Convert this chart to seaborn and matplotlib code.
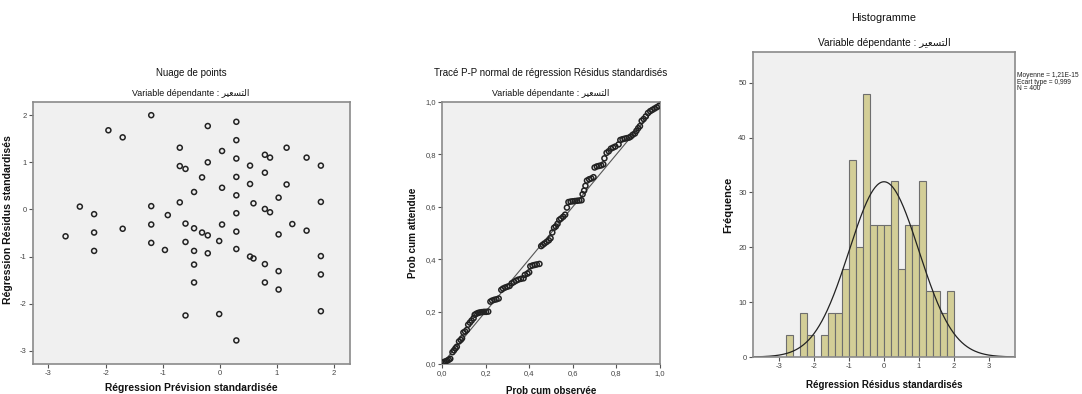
import numpy as np
import pandas as pd
import matplotlib
matplotlib.use("Agg")
import matplotlib.pyplot as plt
import seaborn as sns
from matplotlib.ticker import FuncFormatter

sns.set_theme(style="white")
plt.rcParams["font.family"] = ["Liberation Sans", "DejaVu Sans"]
plt.rcParams["axes.unicode_minus"] = False

# Dependent variable name, Arabic presentation forms in display order
DEP_VAR = "\uFEAE\uFEF4\uFECC\uFEB4\uFE98\uFEDF\uFE8D"
SUBTITLE = "Variable dépendante : " + DEP_VAR

# --- Scatter: standardized predicted vs standardized residuals ---
pred_std = [-1.20, -1.95, -1.70, -0.21, 0.29, 0.29, -0.70, 0.04, 0.29, 0.79, 0.88, 1.17,
            1.52, 1.77, -0.70, -0.60, -0.21, 0.53, 0.79, -0.31, 0.29, 0.53, 1.17, 0.04,
            -0.45, 0.29, 1.03, -0.70, 0.59, 1.77, -2.45, -1.20, 0.79, 0.88, -2.20, -0.91,
            0.29, -2.70, -2.20, -1.70, -1.20, -0.60, -0.45, -0.31, -0.21, 0.04, 0.29, 1.03,
            1.27, 1.52, -2.20, -1.20, -0.96, -0.60, -0.45, -0.21, -0.01, 0.29, 0.53, 0.59,
            0.79, 1.03, 1.77, 1.77, -0.45, -0.45, 0.79, 1.03, -0.60, -0.01, 1.77, 0.29]
resid_std = [2.00, 1.68, 1.53, 1.77, 1.86, 1.47, 1.31, 1.24, 1.08, 1.16, 1.10, 1.31,
             1.10, 0.93, 0.92, 0.86, 1.00, 0.93, 0.78, 0.68, 0.69, 0.54, 0.53, 0.46,
             0.37, 0.30, 0.25, 0.15, 0.13, 0.16, 0.06, 0.07, 0.01, -0.06, -0.10, -0.12,
             -0.08, -0.57, -0.49, -0.41, -0.32, -0.30, -0.40, -0.49, -0.55, -0.32, -0.47, -0.53,
             -0.31, -0.45, -0.88, -0.71, -0.86, -0.69, -0.88, -0.93, -0.67, -0.84, -1.00, -1.04,
             -1.16, -1.31, -0.99, -1.38, -1.17, -1.55, -1.55, -1.70, -2.25, -2.22, -2.16, -2.78]

# --- Normal P-P plot of standardized residuals ---
pp_observed = [0.003, 0.010, 0.017, 0.024, 0.031, 0.038, 0.048, 0.055, 0.062, 0.068,
               0.078, 0.086, 0.092, 0.098, 0.106, 0.114, 0.120, 0.128, 0.136, 0.145,
               0.150, 0.158, 0.166, 0.175, 0.184, 0.193, 0.202, 0.212, 0.222, 0.230,
               0.240, 0.250, 0.260, 0.272, 0.280, 0.290, 0.300, 0.310, 0.320, 0.330,
               0.340, 0.350, 0.362, 0.374, 0.380, 0.392, 0.400, 0.405, 0.415, 0.425,
               0.435, 0.447, 0.455, 0.462, 0.470, 0.480, 0.490, 0.498, 0.506, 0.514,
               0.522, 0.530, 0.538, 0.546, 0.556, 0.565, 0.573, 0.580, 0.590, 0.600,
               0.610, 0.620, 0.630, 0.640, 0.645, 0.652, 0.658, 0.665, 0.675, 0.685,
               0.695, 0.700, 0.710, 0.720, 0.730, 0.740, 0.745, 0.755, 0.765, 0.775,
               0.785, 0.795, 0.810, 0.818, 0.828, 0.838, 0.848, 0.858, 0.866, 0.875,
               0.885, 0.892, 0.900, 0.908, 0.916, 0.925, 0.935, 0.945, 0.955, 0.965,
               0.975, 0.985, 0.995]
pp_expected = [0.005, 0.008, 0.010, 0.013, 0.016, 0.020, 0.045, 0.052, 0.060, 0.066,
               0.086, 0.092, 0.098, 0.120, 0.124, 0.130, 0.150, 0.158, 0.166, 0.175,
               0.188, 0.192, 0.195, 0.197, 0.198, 0.199, 0.199, 0.200, 0.238, 0.242,
               0.245, 0.247, 0.250, 0.283, 0.288, 0.292, 0.295, 0.298, 0.308, 0.313,
               0.318, 0.322, 0.325, 0.327, 0.340, 0.345, 0.350, 0.373, 0.376, 0.378,
               0.380, 0.382, 0.450, 0.455, 0.460, 0.466, 0.472, 0.480, 0.502, 0.520,
               0.525, 0.535, 0.550, 0.555, 0.562, 0.570, 0.597, 0.618, 0.620, 0.621,
               0.622, 0.623, 0.624, 0.625, 0.648, 0.662, 0.680, 0.700, 0.705, 0.708,
               0.713, 0.750, 0.754, 0.756, 0.758, 0.762, 0.785, 0.806, 0.812, 0.822,
               0.826, 0.830, 0.838, 0.855, 0.858, 0.860, 0.862, 0.864, 0.868, 0.875,
               0.880, 0.890, 0.900, 0.908, 0.928, 0.935, 0.945, 0.958, 0.965, 0.970,
               0.975, 0.980, 0.985]

# --- Histogram of standardized residuals (bin width 0.2) ---
bin_edges = [-2.8, -2.6, -2.4, -2.2, -2.0, -1.8, -1.6, -1.4, -1.2, -1.0, -0.8, -0.6, -0.4,
             -0.2, 0.0, 0.2, 0.4, 0.6, 0.8, 1.0, 1.2, 1.4, 1.6, 1.8, 2.0]
bin_counts = [4, 0, 8, 4, 0, 4, 8, 8, 16, 36, 20, 48, 24, 24, 24, 32, 16, 24, 24, 32, 12, 12, 8, 12]
hist_mean = 1.21e-15
hist_sd = 0.999
hist_n = 400

# Figure and styling
W, H = 1082, 394
fig = plt.figure(figsize=(W / 100, H / 100), dpi=100)
fig.patch.set_facecolor("white")

PANEL_BG = "#F0F0F0"
SPINE = "#8A8A8A"
TICK_TXT = "#444444"


def px_axes(x0, y0, x1, y1):
    return fig.add_axes([x0 / W, 1 - y1 / H, (x1 - x0) / W, (y1 - y0) / H])


def style(ax):
    ax.set_facecolor(PANEL_BG)
    for s in ax.spines.values():
        s.set_color(SPINE)
        s.set_linewidth(1.2)
    ax.tick_params(axis="both", which="both", direction="out", length=3, width=0.8,
                   color="#555555", labelsize=5.5, labelcolor=TICK_TXT, pad=1.5,
                   left=True, bottom=True, top=False, right=False)
    ax.grid(False)


def titles(xc, y_main, y_sub, main, size_main, size_sub):
    fig.text(xc / W, 1 - y_main / H, main, ha="center", va="center",
             fontsize=size_main, color="#111111")
    fig.text(xc / W, 1 - y_sub / H, SUBTITLE, ha="center", va="center",
             fontsize=size_sub, color="#111111")


comma = FuncFormatter(lambda v, p: f"{v:.1f}".replace(".", ","))


def label_kw(size):
    return dict(fontsize=size, fontweight="bold", color="#111111")


# Panel 1: scatter
ax1 = px_axes(33, 102, 350, 364)
style(ax1)
df_sc = pd.DataFrame({"pred": pred_std, "resid": resid_std})
sns.scatterplot(data=df_sc, x="pred", y="resid", ax=ax1, marker="o", s=13,
                facecolor="none", edgecolor="#222222", linewidth=1.1)
ax1.set_xlim(-3.27, 2.28)
ax1.set_ylim(-3.28, 2.28)
ax1.set_xticks([-3, -2, -1, 0, 1, 2])
ax1.set_yticks([-3, -2, -1, 0, 1, 2])
ax1.set_xlabel("Régression Prévision standardisée", labelpad=4, **label_kw(7.4))
ax1.set_ylabel("Régression Résidus standardisés", **label_kw(7.6))
ax1.yaxis.set_label_coords(-0.062, 0.55)
titles(191, 73, 93, "Nuage de points", 7.0, 6.4)

# Panel 2: P-P plot
ax2 = px_axes(442, 102, 660, 364)
style(ax2)
df_pp = pd.DataFrame({"obs": pp_observed, "exp": pp_expected})
sns.lineplot(x=[0, 1], y=[0, 1], ax=ax2, color="#555555", linewidth=0.8)
sns.scatterplot(data=df_pp, x="obs", y="exp", ax=ax2, marker="o", s=13,
                facecolor="none", edgecolor="#222222", linewidth=1.1, zorder=3)
ax2.set_xlim(0, 1)
ax2.set_ylim(0, 1)
ax2.set_xticks(np.arange(0, 1.01, 0.2))
ax2.set_yticks(np.arange(0, 1.01, 0.2))
ax2.xaxis.set_major_formatter(comma)
ax2.yaxis.set_major_formatter(comma)
ax2.set_xlabel("Prob cum observée", labelpad=6, **label_kw(7.0))
ax2.set_ylabel("Prob cum attendue", labelpad=5, **label_kw(7.2))
titles(551, 73, 93, "Tracé P-P normal de régression Résidus standardisés", 7.0, 6.4)

# Panel 3: histogram with fitted normal curve
ax3 = px_axes(753, 52, 1015, 357)
style(ax3)
centers = [(a + b) / 2 for a, b in zip(bin_edges[:-1], bin_edges[1:])]
df_h = pd.DataFrame({"resid": centers, "count": bin_counts})
sns.histplot(data=df_h, x="resid", weights="count", bins=bin_edges, ax=ax3,
             color="#D3CE97", alpha=1.0, edgecolor="#6E6E6E", linewidth=0.8)
xs = np.linspace(-3.75, 3.75, 400)
bw = bin_edges[1] - bin_edges[0]
dens = hist_n * bw / (hist_sd * np.sqrt(2 * np.pi)) * np.exp(-0.5 * ((xs - hist_mean) / hist_sd) ** 2)
sns.lineplot(x=xs, y=dens, ax=ax3, color="#222222", linewidth=0.9)
ax3.set_xlim(-3.75, 3.75)
ax3.set_ylim(0, 55.6)
ax3.set_xticks([-3, -2, -1, 0, 1, 2, 3])
ax3.set_yticks([0, 10, 20, 30, 40, 50])
ax3.set_xlabel("Régression Résidus standardisés", labelpad=7, **label_kw(7.0))
ax3.set_ylabel("Fréquence", labelpad=4, **label_kw(8.0))
titles(884, 18, 43, "Histogramme", 7.8, 7.3)

mean_txt = f"{hist_mean:.2E}".replace(".", ",").replace("E-0", "E-")
stats_txt = (f"Moyenne = {mean_txt}\n"
             + f"Ecart type = {hist_sd:.3f}".replace(".", ",") + "\n"
             + f"N = {hist_n}")
fig.text(1017 / W, 1 - 72 / H, stats_txt, ha="left", va="top", fontsize=4.8,
         color="#222222", linespacing=0.95)

fig.savefig("out.png", dpi=100)
